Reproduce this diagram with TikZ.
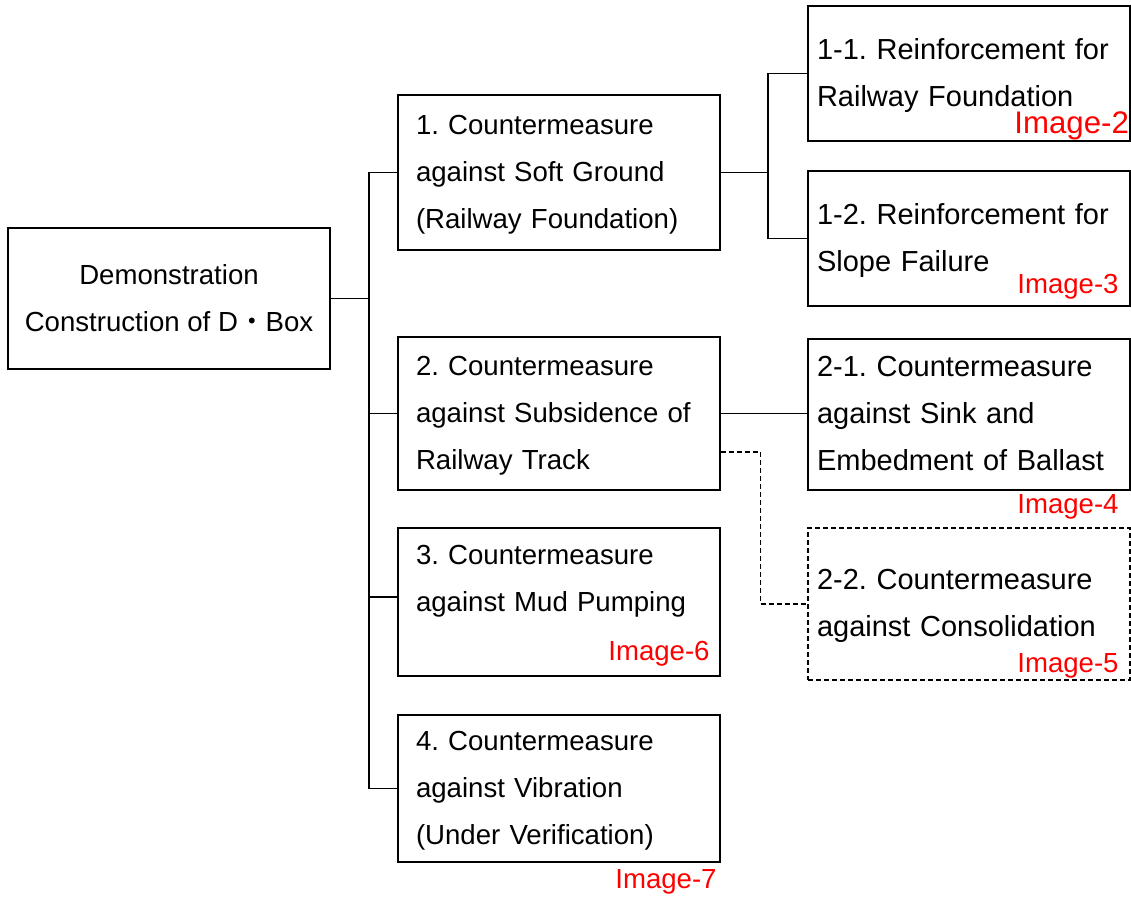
\documentclass[tikz,border=0pt]{standalone}
\usepackage{fontspec}
\setmainfont{Liberation Sans}
\newfontfamily\cjk{Noto Sans CJK JP}
\usetikzlibrary{calc}

\tikzset{
  box/.style={draw, line width=0.6pt, minimum width=161pt, text width=143pt,
    inner xsep=9pt, inner ysep=0pt, align=left,
    execute at begin node=\strut, execute at end node=\strut},
  subbox/.style={box, text width=152pt, inner xsep=4.5pt,
    font=\fontsize{14.5}{23.5}\selectfont},
  rootbox/.style={draw, line width=0.6pt, minimum width=161pt, minimum height=70.5pt,
    align=center, inner sep=0pt},
  imgtag/.style={text=red, inner sep=0pt, anchor=base east},
  link/.style={line width=0.6pt},
  maybe/.style={line width=0.6pt, dash pattern=on 2.5pt off 1.5pt}
}

\begin{document}
\frenchspacing
\begin{tikzpicture}[x=0.5pt, y=-0.5pt, font=\fontsize{13.8}{23.5}\selectfont]
  \useasboundingbox (0,0) rectangle (1131,896);

  % root and first level
  \node[rootbox] (root) at (169,298.5) {Demonstration\\Construction of D{\cjk ・}Box};
  \node[box, minimum height=77.5pt] (c1) at (559,172.5)
    {1. Countermeasure\\against Soft Ground\\(Railway Foundation)};
  \node[box, minimum height=76.5pt] (c2) at (559,413.5)
    {2. Countermeasure\\against Subsidence of\\Railway Track};
  \node[box, minimum height=74pt] (c3) at (559,602)
    {3. Countermeasure\\against Mud Pumping\\\mbox{}};
  \node[box, minimum height=73.5pt] (c4) at (559,788.5)
    {4. Countermeasure\\against Vibration\\(Under Verification)};

  % second level
  \node[subbox, minimum height=67.5pt] (s11) at (969,73.5)
    {1-1. Reinforcement for\\Railway Foundation};
  \node[subbox, minimum height=67.5pt] (s12) at (969,238.5)
    {1-2. Reinforcement for\\Slope Failure};
  \node[subbox, minimum height=75.5pt] (s21) at (969,414.5)
    {2-1. Countermeasure\\against Sink and\\Embedment of Ballast};
  \node[subbox, maybe, minimum height=76pt] (s22) at (969,604)
    {2-2. Countermeasure\\against Consolidation};

  % image references
  \node[imgtag, anchor=base west, font=\fontsize{15.6}{18}\selectfont] (tag2) at (1014,133) {Image-2};
  \node[imgtag] (tag3) at (1119,293) {Image-3};
  \node[imgtag] (tag4) at (1119,513) {Image-4};
  \node[imgtag] (tag5) at (1119,672) {Image-5};
  \node[imgtag] (tag6) at (710,660) {Image-6};
  \node[imgtag] (tag7) at (717,888) {Image-7};

  % tree lines
  \coordinate (trunk) at (369,0);
  \coordinate (fork1) at (768,0);
  \draw[link] (root.east) -- (root.east -| trunk);
  \draw[link] (c1.west) -- (c1.west -| trunk) -- (c4.west -| trunk) -- (c4.west);
  \draw[link] (c2.west) -- (c2.west -| trunk);
  \draw[link] ([yshift=2.5pt]c3.west) -- ([yshift=2.5pt]c3.west -| trunk);
  \draw[link] (c1.east) -- (c1.east -| fork1);
  \draw[link] (s11.west) -- (s11.west -| fork1) -- (s12.west -| fork1) -- (s12.west);
  \draw[link] (c2.east) -- (c2.east -| s21.west);
  \draw[maybe] ($(c2.south east)!0.25!(c2.north east)$) -- ++(40,0) |- (s22.west);
\end{tikzpicture}
\end{document}
